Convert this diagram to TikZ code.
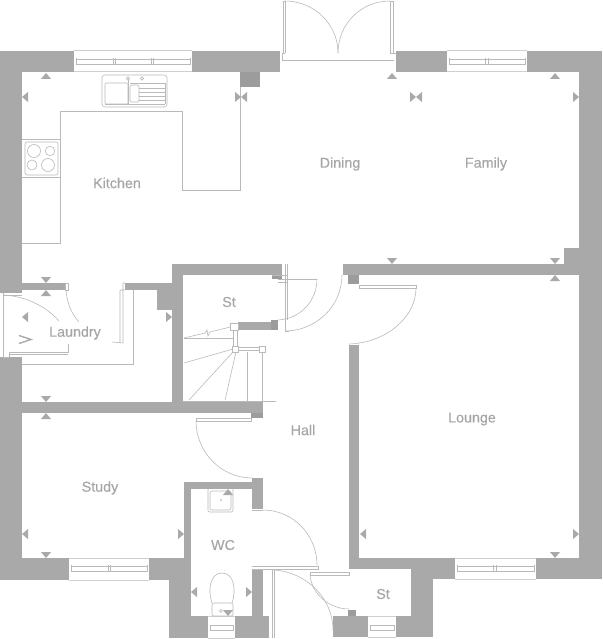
\documentclass[tikz,border=0pt]{standalone}
\usepackage{fontspec}
\setmainfont[FakeBold=0.25]{Liberation Sans}
\definecolor{wallc}{HTML}{A9A9A9}
\definecolor{stubc}{HTML}{9C9C9C}
\definecolor{linec}{HTML}{BABABA}
\definecolor{textc}{HTML}{A6A6A6}
\tikzset{
 wall/.style={fill=wallc},
 stub/.style={fill=stubc},
 ln/.style={draw=linec,line width=0.8pt},
 thin ln/.style={draw=linec,line width=0.6pt},
 winbox/.style={draw=linec!70,line width=1pt,fill=white},
 mk/.style={fill=wallc},
 room/.style={text=textc,font=\fontsize{14.3}{16}\selectfont,inner sep=0pt},
}
\newcommand{\mkU}[2]{\fill[mk] (#1,#2) -- ++(-5,6) -- ++(10,0) -- cycle;}
\newcommand{\mkD}[2]{\fill[mk] (#1,#2) -- ++(-5,-6) -- ++(10,0) -- cycle;}
\newcommand{\mkL}[2]{\fill[mk] (#1,#2) -- ++(6,-5) -- ++(0,10) -- cycle;}
\newcommand{\mkR}[2]{\fill[mk] (#1,#2) -- ++(-6,-5) -- ++(0,10) -- cycle;}
% window: x1 x2 ytop ybottom, then inner y1, y2
\newcommand{\win}[6]{\fill[white] (#1,#3) rectangle (#2,#4);
 \draw[winbox] (#1,#3) -- (#2,#3) (#1,#4) -- (#2,#4);
 \draw[thin ln] (#1+2,#5) rectangle (#2-2,#6);}
\begin{document}
\begin{tikzpicture}[x=1pt,y=-1pt]
\useasboundingbox (0,0) rectangle (602,639);
\fill[white] (0,0) rectangle (602,639);
% ---- outer walls
\fill[wall] (0,51) rectangle (74,72);
\fill[wall] (0,51) rectangle (22,293);
\fill[wall] (192,51) rectangle (280,72);
\fill[stub] (240,72) rectangle (260,87);
\fill[wall] (396,51) rectangle (447,72);
\fill[wall] (527,51) rectangle (602,72);
\fill[wall] (579,51) rectangle (602,579);
\fill[wall] (536,558) rectangle (602,579);
\fill[wall] (349,558) rectangle (455,569);
\fill[wall] (411,558) rectangle (455,579);
\fill[wall] (411,558) rectangle (433,637);
\fill[wall] (396,616) rectangle (433,637);
\fill[wall] (333,616) rectangle (368,637);
\fill[stub] (348,610) rectangle (356,616);
\fill[wall] (0,357) rectangle (22,580);
\fill[wall] (0,558) rectangle (69,580);
\fill[wall] (149,558) rectangle (191,580);
\fill[wall] (169,558) rectangle (191,638);
\fill[wall] (169,616) rectangle (208,638);
\fill[wall] (235,616) rectangle (269,638);
% ---- inner walls
\fill[wall] (22,283) rectangle (65,290);
\fill[wall] (125,283) rectangle (172,290);
\fill[wall] (157,283) rectangle (172,310);
\fill[wall] (22,402) rectangle (263,413);
\fill[wall] (172,264) rectangle (183,413);
\fill[wall] (172,264) rectangle (282,275);
\fill[stub] (272,275) rectangle (282,279);
\fill[stub] (251,413) rectangle (263,418);
\fill[wall] (238,322) rectangle (278,330);
\fill[stub] (271,320) rectangle (278,330);
\fill[wall] (343,264) rectangle (579,275);
\fill[wall] (564,248) rectangle (579,264);
\fill[stub] (348,275) rectangle (359,284);
\fill[wall] (349,345) rectangle (359,569);
\fill[wall] (184,482) rectangle (191,560);
\fill[wall] (184,482) rectangle (252,489);
\fill[wall] (252,478) rectangle (263,509);
\fill[wall] (252,570) rectangle (263,616);
% ---- windows
\win{74}{192}{51}{72}{59}{64}
\draw[thin ln] (76,58) -- (76,65) (113,58) -- (113,65) (115,58) -- (115,65) (151,58) -- (151,65) (153,58) -- (153,65) (190,58) -- (190,65);
\win{447}{527}{51}{72}{59}{64}
\draw[thin ln] (449,58) -- (449,65) (485,58) -- (485,65) (488,58) -- (488,65) (525,58) -- (525,65);
\win{69}{149}{558}{580}{566}{571}
\draw[thin ln] (71,565) -- (71,572) (108,565) -- (108,572) (110,565) -- (110,572) (147,565) -- (147,572);
\win{455}{536}{558}{579}{566}{571}
\draw[thin ln] (457,565) -- (457,572) (493,565) -- (493,572) (496,565) -- (496,572) (534,565) -- (534,572);
\win{208}{235}{616}{638}{625}{630}
\win{368}{396}{616}{637}{625}{630}
% ---- patio doors
\draw[thin ln] (282,60) -- (394,60);
\draw[thin ln] (282,53) -- (282,60) (282,53) -- (285,53) (283,53) -- (283,1) -- (285,1) -- (285,53);
\draw[thin ln] (390,53) -- (390,1) -- (393,1) -- (393,53) -- (390,53) (393,53) -- (396,53);
\draw[thin ln] (285,1) .. controls (314,1) and (338,24) .. (338,53);
\draw[thin ln] (390,1) .. controls (361,1) and (338,24) .. (338,53);
% ---- kitchen units
\draw[ln] (22,243) -- (60,243) -- (60,111) -- (182,111) -- (182,190) -- (240,190) -- (240,87);
\draw[ln] (22,139) -- (60,139) (22,177) -- (60,177);
\draw[thin ln,rounded corners=2pt] (25,142) rectangle (58,175);
\draw[thin ln] (34,151) circle (6.5) (50,151) circle (4.7) (32,165) circle (5) (48,165) circle (6.5);
\draw[thin ln,rounded corners=3pt] (102,75) rectangle (167,107);
\draw[thin ln,rounded corners=1pt] (105,83) rectangle (128,104);
\draw[thin ln,rounded corners=2pt] (130,85) rectangle (139,102);
\draw[thin ln] (128,79) -- (128,104) (105,104) -- (165,104) (130,83) -- (165,83) -- (165,104);
\draw[thin ln] (139,88) -- (165,88) (139,92) -- (165,92) (139,96) -- (165,96) (139,100) -- (165,100);
\draw[thin ln] (128,78.5) circle (1.6) (142,78.5) circle (1.6);
% ---- laundry
\draw[thin ln] (3,293) -- (3,357);
\draw[thin ln] (3,295) -- (22,295);
\draw[thin ln] (3,295) .. controls (25,296) and (46,306) .. (59,321);
\draw[thin ln] (65,283) rectangle (68,290);
\draw[thin ln] (66,290) .. controls (67,303) and (71,313) .. (79,322);
\draw[thin ln] (3,357) -- (9,357) (9,357) -- (9,352) -- (68,352) -- (68,344) (9,354.5) -- (68,354.5);
\draw[thin ln] (123,283) -- (123,343) -- (112,342) (120,290) -- (120,343) (120,290) -- (125,290) (123,283) -- (125,283);
\draw[ln] (22,364) -- (133,364) -- (133,290);
\draw[wallc,line width=1.4pt] (19,335.5) -- (31,339.5) -- (19,343.5);
% ---- stairs
\draw[ln] (183,401) -- (276,401);
\draw[thin ln] (184,338.5) -- (233,338.5);
\draw[thin ln] (184,338) -- (205,333) -- (207,330) -- (208,336) -- (210,332) -- (230,327);
\draw[thin ln] (184,363) -- (233,349) (189,400) -- (233,352) (225,400) -- (236,352);
\draw[ln] (247,352) -- (247,401) (262,352) -- (262,401);
\draw[thin ln] (233,330) -- (233,346) (237,330) -- (237,346);
\draw[thin ln] (238,347) -- (259,347) (238,350.5) -- (259,350.5);
\draw[thin ln,fill=white] (230,323) rectangle (238,330);
\draw[thin ln,fill=white] (232,346) rectangle (238,352);
\draw[thin ln,fill=white] (259,346) rectangle (265,352);
% ---- hall, store and lounge doors
\draw[thin ln] (285,264) -- (285,331) -- (289,331) (287,264) -- (287,320);
\draw[thin ln] (272,275) -- (288,275) (278,279) -- (317,279) (278,282) -- (288,282);
\draw[thin ln] (317,279) .. controls (317,301) and (300,319) .. (278,320);
\draw[thin ln] (285,331) .. controls (316,331) and (342,306) .. (342,275);
\draw[thin ln] (359,285) -- (416,285) -- (416,288) -- (359,288) -- cycle;
\draw[thin ln] (416,288) .. controls (416,318) and (385,343) .. (349,344);
\draw[thin ln] (196,418) -- (251,418) -- (251,421) -- (196,421) -- cycle;
\draw[thin ln] (196,421) .. controls (196,452) and (221,478) .. (252,478);
\draw[thin ln] (263,510) -- (252,510);
\draw[thin ln] (263,510) .. controls (293,510) and (317,535) .. (317,565);
\draw[thin ln] (252,566) -- (318,566) -- (318,569) -- (252,569);
\draw[thin ln] (272,569) -- (272,638) (274,569) -- (274,638);
\draw[thin ln] (274,570) .. controls (306,572) and (333,598) .. (333,630);
\draw[thin ln] (310,572) -- (349,572) -- (349,575) -- (310,575) -- cycle;
\draw[thin ln] (310,575) .. controls (312,595) and (330,609) .. (349,609);
% ---- WC fittings
\draw[thin ln,rounded corners=2pt] (208,489) -- (208,512) -- (233,512) -- (233,489);
\draw[thin ln,rounded corners=2pt] (210,491) rectangle (231,510);
\fill[linec] (221,500) circle (1);
\draw[thin ln] (212,603) .. controls (208,592) and (209,573) .. (222,573) .. controls (235,573) and (236,592) .. (232,603);
\draw[thin ln,rounded corners=2pt] (212,603) rectangle (233,616);
\draw[thin ln] (221,611) circle (1.5);
% ---- dimension markers
\mkU{46}{73} \mkL{22}{97} \mkR{241}{97} \mkL{241}{97} \mkU{392}{73}
\mkR{416}{97} \mkL{416}{97} \mkU{555}{73} \mkR{579}{97}
\mkD{46}{283} \mkU{46}{290} \mkL{22}{317} \mkR{172}{317}
\mkD{46}{402} \mkU{46}{413} \mkL{22}{534} \mkR{184}{534} \mkD{46}{558}
\mkD{392}{264} \mkD{555}{264} \mkU{555}{275}
\mkL{360}{534} \mkR{579}{534} \mkD{555}{558}
\mkU{228}{489} \mkD{228}{616} \mkL{191}{592} \mkR{252}{592}
% ---- labels
\node[room] (kitchen) at (117,183) {Kitchen};
\node[room] (dining) at (340,164) {Dining};
\node[room] (family) at (486,164) {Family};
\node[room] (laundry) at (75,333) {Laundry};
\node[room] (st1) at (229,302) {St};
\node[room] (hall) at (303,430) {Hall};
\node[room] (lounge) at (472,419) {Lounge};
\node[room] (study) at (100,488) {Study};
\node[room] (wc) at (223,545) {WC};
\node[room] (st2) at (383,594) {St};
\end{tikzpicture}
\end{document}
